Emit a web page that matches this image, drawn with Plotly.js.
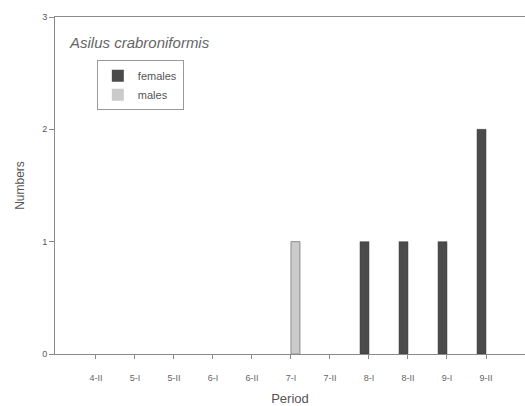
<!DOCTYPE html>
<html>
<head>
<meta charset="utf-8">
<script src="https://cdn.plot.ly/plotly-3.0.1.min.js"></script>
<style>html,body{margin:0;padding:0;background:#fff;}#chart{width:525px;height:406px;}</style>
</head>
<body>
<div id="chart"></div>
<script>
const periods = ["4-II","5-I","5-II","6-I","6-II","7-I","7-II","8-I","8-II","9-I","9-II"];
const females = [0,0,0,0,0,0,0,1,1,1,2];
const males   = [0,0,0,0,0,1,0,0,0,0,0];
const yTicks = [0,1,2,3];

const textColor = "#555";
const axisColor = "#8a8a8a";

const data = [
  {type:"bar", name:"females", x:periods, y:females,
   marker:{color:"#4b4b4b", line:{color:"#3a3a3a", width:females.map(v => v > 0 ? 0.5 : 0)}}},
  {type:"bar", name:"males", x:periods, y:males,
   marker:{color:"#cbcbcb", line:{color:"#8c8c8c", width:males.map(v => v > 0 ? 1 : 0)}}}
];

const layout = {
  width:525, height:406,
  margin:{l:55, r:0, t:17, b:52},
  paper_bgcolor:"#fff", plot_bgcolor:"#fff",
  font:{family:"Liberation Sans, Arial, sans-serif", color:textColor, size:9},
  barmode:"group", bargap:0.54, bargroupgap:0,
  showlegend:true,
  legend:{x:0.089, y:0.872, xanchor:"left", yanchor:"top",
          bordercolor:"#999", borderwidth:1, bgcolor:"#fff",
          font:{size:11, color:textColor}, itemwidth:30,
          tracegroupgap:0},
  xaxis:{type:"category", range:[-1.05, 11], showline:true, mirror:true,
         linecolor:axisColor, linewidth:1, ticks:"outside", ticklen:4,
         tickcolor:axisColor, showgrid:false, zeroline:false,
         ticklabelstandoff:11,
         tickfont:{size:9, color:"#666"},
         title:{text:"Period", font:{size:13, color:"#555"}, standoff:15}},
  yaxis:{range:[0,3], tickvals:yTicks, showline:true, linecolor:axisColor,
         linewidth:1, ticks:"outside", ticklen:5, tickcolor:axisColor,
         showgrid:false, zeroline:false, tickfont:{size:9, color:"#555"},
         title:{text:"Numbers", font:{size:12, color:"#555"}, standoff:14}},
  annotations:[{text:"Asilus crabroniformis", xref:"paper", yref:"paper",
                x:0.025, y:0.925, xanchor:"left", yanchor:"middle", showarrow:false,
                font:{size:15, color:"#666", family:"Liberation Sans, Arial, sans-serif", style:"italic"}}]
};

Plotly.newPlot("chart", data, layout, {displayModeBar:false, staticPlot:true});
</script>
</body>
</html>
